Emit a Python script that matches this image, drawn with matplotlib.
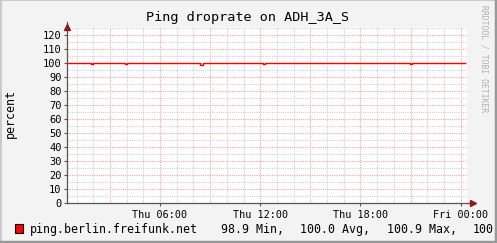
import matplotlib
matplotlib.use("Agg")
import matplotlib.pyplot as plt
from matplotlib.lines import Line2D
from matplotlib.patches import Rectangle

# hours since Thu 00:00, step data (value holds until next time)
times = [0.43, 1.85, 1.97, 3.90, 4.02, 8.40, 8.55, 12.15, 12.27, 20.95, 21.07, 24.26]
values = [100, 99.3, 100, 99.3, 100, 98.9, 100, 99.3, 100, 99.3, 100, 100]

tick_hours = [6, 12, 18, 24]
tick_labels = ['Thu 06:00', 'Thu 12:00', 'Thu 18:00', 'Fri 00:00']
y_ticks = list(range(0, 121, 10))

legend_name = 'ping.berlin.freifunk.net'
legend_stats = ['98.9 Min,', '100.0 Avg,', '100.9 Max,', '100.']
legend_x = [221, 300, 386.7, 472.7]

W, H = 497, 243
mono = 'DejaVu Sans Mono'
fig = plt.figure(figsize=(W / 100, H / 100), dpi=100)
fig.patch.set_facecolor('#f3f3f3')

# plot area in pixels
x0, x1, ytop, ybot = 67, 467, 27, 203
ax = fig.add_axes([x0 / W, (H - ybot) / H, (x1 - x0) / W, (ybot - ytop) / H])
ax.set_facecolor('white')
ax.set_xlim(0.43, 24.38)
ax.set_ylim(0, 125.7)

# grid: minor gray, major red-ish, dotted
for h in range(1, 25):
    if h % 3 == 0:
        ax.axvline(h, color='#f0a8a8', lw=0.8, ls=(0, (1, 1)), zorder=1)
    else:
        ax.axvline(h, color='#d0d0d0', lw=0.8, ls=(0, (1, 1)), zorder=1)
for v in range(5, 126, 5):
    if v % 10 == 0:
        ax.axhline(v, color='#f0a8a8', lw=0.8, ls=(0, (1, 1)), zorder=1)
    else:
        ax.axhline(v, color='#d0d0d0', lw=0.8, ls=(0, (1, 1)), zorder=1)

ax.plot(times, values, drawstyle='steps-post', color='#ff0000', lw=1.0, zorder=3)

for s in ['top', 'right']:
    ax.spines[s].set_visible(False)
for s in ['left', 'bottom']:
    ax.spines[s].set_color('#555555')
    ax.spines[s].set_linewidth(0.9)
    ax.spines[s].set_zorder(4)

ax.set_yticks(y_ticks)
ax.set_yticklabels([str(v) for v in y_ticks], fontfamily=mono, fontsize=7.5)
ax.set_xticks(tick_hours)
ax.set_xticklabels(tick_labels, fontfamily=mono, fontsize=7.3)
ax.tick_params(axis='both', length=2, width=0.8, color='#555555', pad=2)
ax.tick_params(axis='x', length=2, pad=3)

# axis arrows
ax.plot([0.43], [1.0], transform=ax.get_xaxis_transform(), marker='^', ms=4,
        color='#8b1a1a', clip_on=False, zorder=5)
ax.plot([1.015], [0], transform=ax.get_yaxis_transform(), marker='>', ms=4,
        color='#8b1a1a', clip_on=False, zorder=5)
ax.add_line(Line2D([0.43, 0.43], [1.0, 1.03], transform=ax.get_xaxis_transform(),
                   color='#555555', lw=0.9, clip_on=False))
ax.add_line(Line2D([1.0, 1.015], [0, 0], transform=ax.get_yaxis_transform(),
                   color='#555555', lw=0.9, clip_on=False))

fig.text(247.5 / W, 1 - 18 / H, 'Ping droprate on ADH_3A_S', fontfamily=mono,
         fontsize=9.7, ha='center', va='center')
fig.text(10 / W, 1 - 114 / H, 'percent', fontfamily=mono, fontsize=8.4,
         rotation=90, ha='center', va='center')
fig.text(484 / W, 1 - 5 / H, 'RRDTOOL / TOBI OETIKER', fontfamily=mono,
         fontsize=5.8, rotation=270, ha='center', va='top', color='#b0b0b0')

# legend
fig.patches.append(Rectangle((15 / W, 1 - 233 / H), 8 / W, 9 / H,
                             transform=fig.transFigure, facecolor='#ff0000',
                             edgecolor='black', lw=0.8))
fig.text(30 / W, 1 - 229 / H, legend_name, fontfamily=mono, fontsize=8.4, va='center')
for xp, t in zip(legend_x, legend_stats):
    fig.text(xp / W, 1 - 229 / H, t, fontfamily=mono, fontsize=8.4, va='center')

# 3D-ish frame
fig.add_artist(Line2D([0, 1], [1 - 0.5 / H, 1 - 0.5 / H], color='#cbcbcb', lw=1.5))
fig.add_artist(Line2D([0.5 / W, 0.5 / W], [0, 1], color='#cbcbcb', lw=1.5))
fig.add_artist(Line2D([0, 1], [1.5 / H, 1.5 / H], color='#999999', lw=2.5, zorder=10))
fig.add_artist(Line2D([1 - 1.5 / W, 1 - 1.5 / W], [0, 1], color='#999999', lw=2.5, zorder=10))

fig.savefig('out.png', dpi=100, facecolor=fig.get_facecolor())
